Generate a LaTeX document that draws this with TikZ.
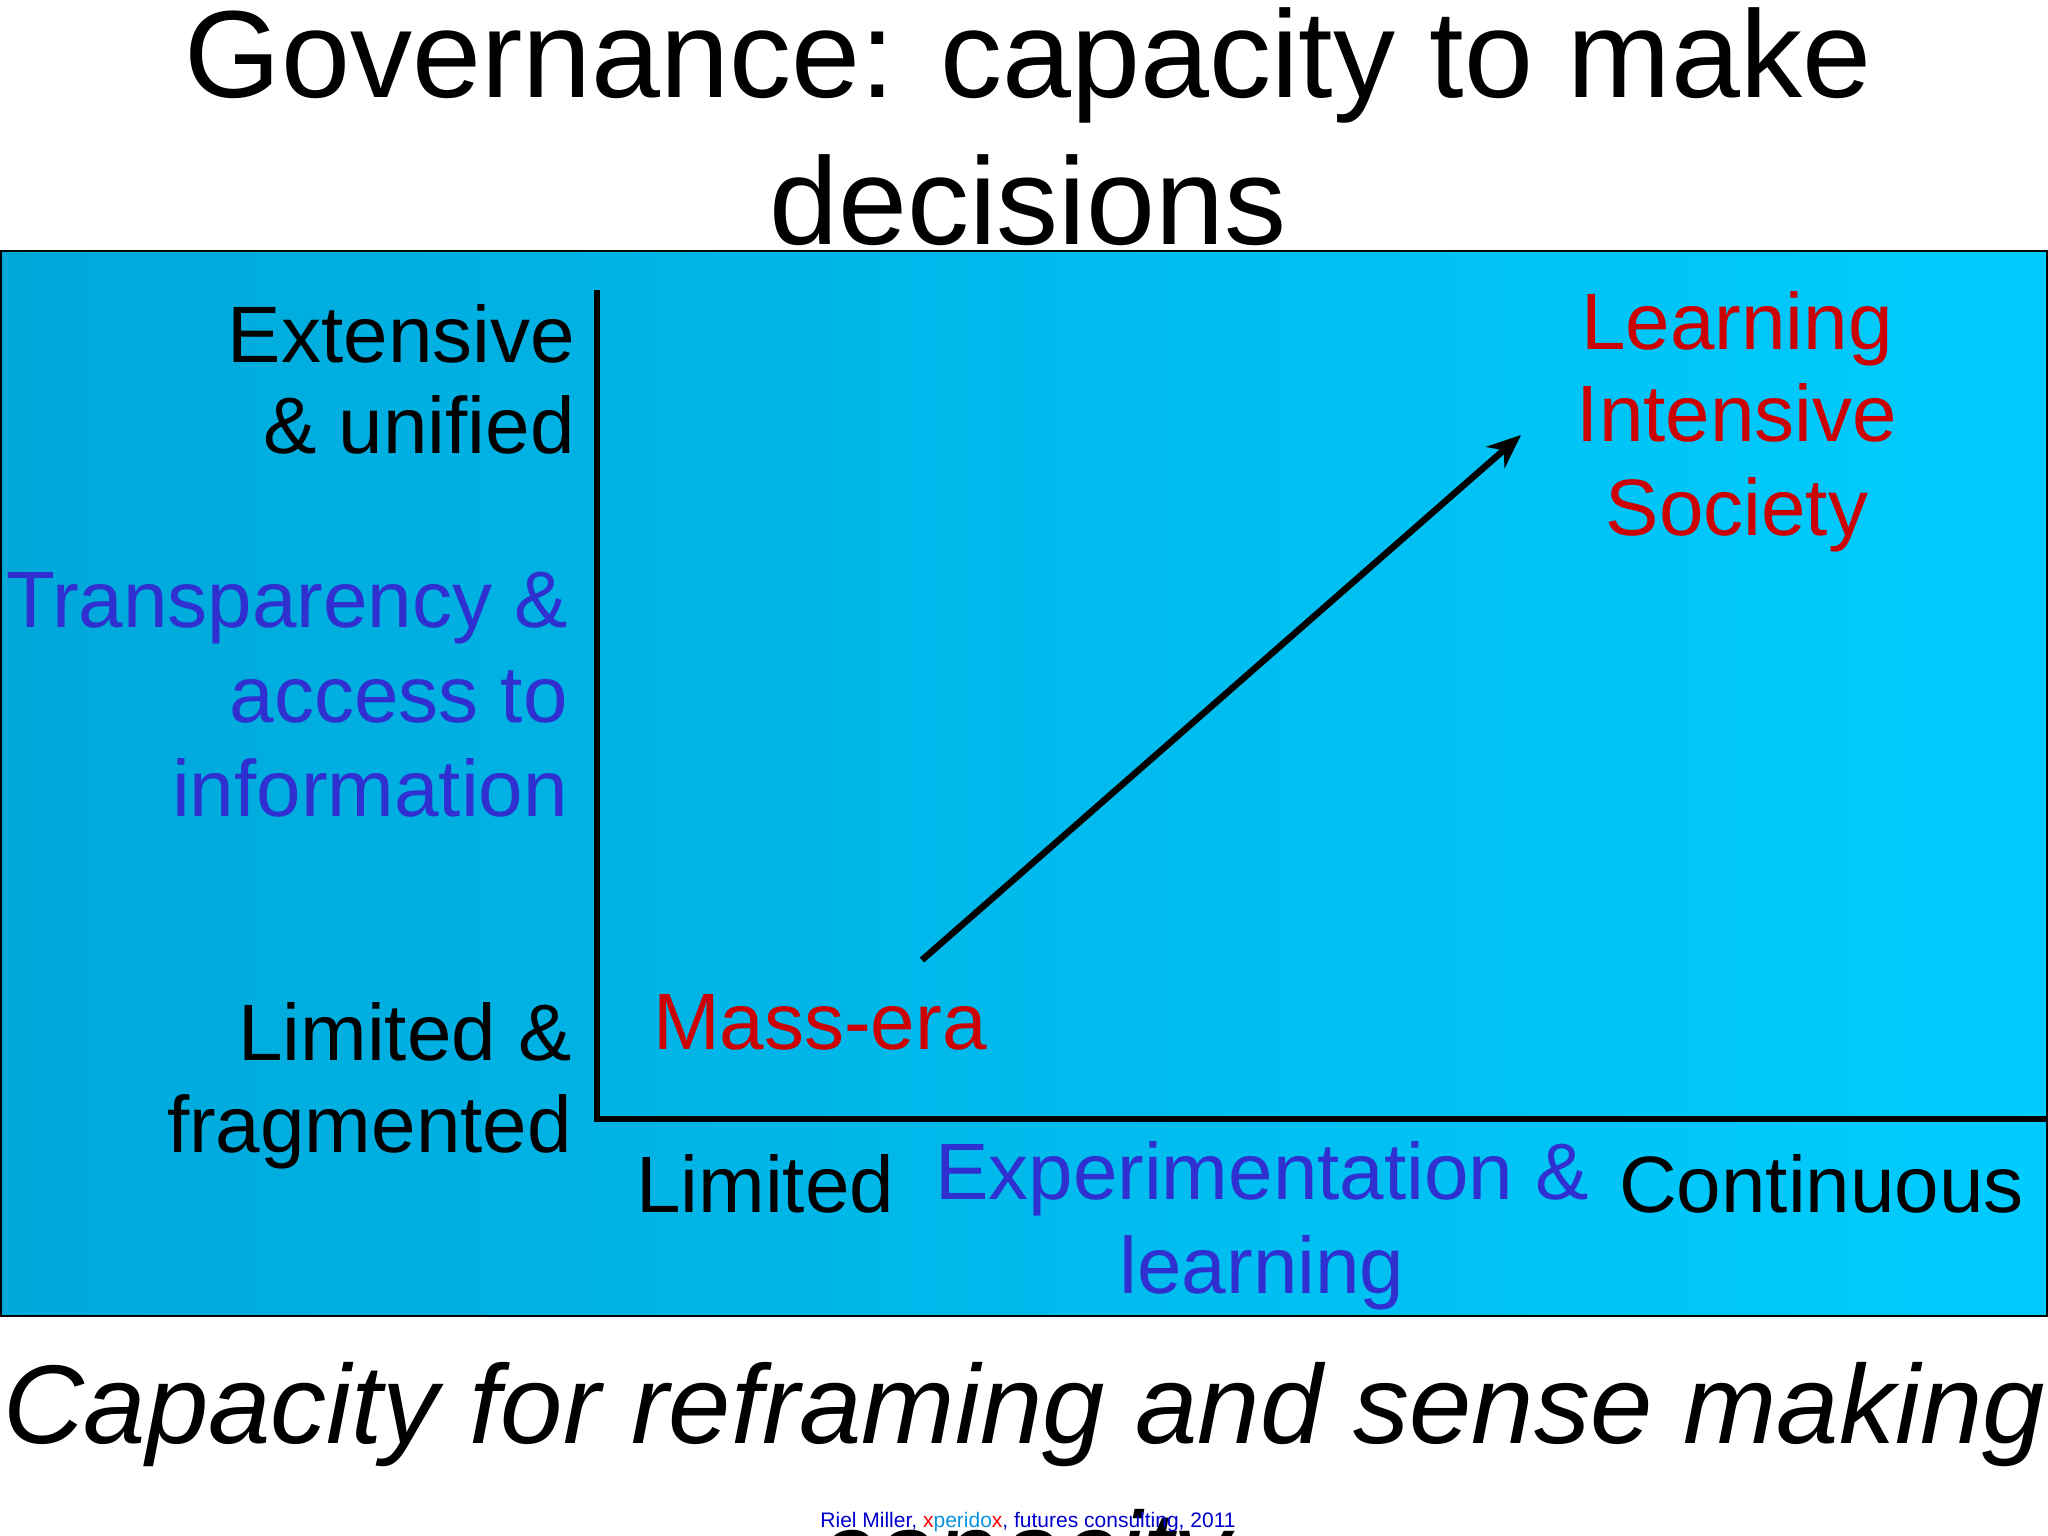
\documentclass[tikz,border=0pt]{standalone}
\usepackage{fontspec}
\usetikzlibrary{arrows.meta}
\setmainfont{Liberation Sans}
\begin{document}
\begin{tikzpicture}[x=1pt,y=-1pt,
  big/.style={font=\fontsize{80}{95}\selectfont, inner sep=0pt},
  ttl/.style={font=\fontsize{124}{140}\selectfont, inner sep=0pt, anchor=base},
  axis/.style={line width=6.5pt},
  bluetxt/.style={text=blueish}, redtxt/.style={text=redish}]
\definecolor{blueish}{HTML}{3030D0}
\definecolor{redish}{HTML}{CC0000}
\definecolor{boxl}{HTML}{00A8DA}
\definecolor{boxr}{HTML}{00CCFF}
\useasboundingbox (0,0) rectangle (2048,1536);
\clip (0,0) rectangle (2048,1536);
\node[ttl] (t1) at (1028,98) {Governance: capacity to make};
\node[ttl] (t2) at (1028,244) {decisions};
\shade[left color=boxl, right color=boxr] (0,251) rectangle (2048,1316);
\draw[line width=2pt] (1,251) rectangle (2047,1316);
\coordinate (vtop) at (597,290);
\coordinate (org) at (597,1119);
\coordinate (hend) at (2048,1119);
\draw[axis] (vtop) -- (org) -- (hend);
\coordinate (as) at (922,960);
\coordinate (ae) at (1521,435);
\draw[line width=6.5pt,-{Stealth[length=34pt,width=28pt]}] (as) -- (ae);
\node[big,anchor=base east] (e1) at (575,362) {Extensive};
\node[big,anchor=base east] (e2) at (575,453) {\& unified};
\node[big,bluetxt,anchor=base east] (tr1) at (568,627) {Transparency \&};
\node[big,bluetxt,anchor=base east] (tr2) at (568,722) {access to};
\node[big,bluetxt,anchor=base east] (tr3) at (568,816) {information};
\node[big,anchor=base east] (l1) at (572,1060) {Limited \&};
\node[big,anchor=base east] (l2) at (572,1152) {fragmented};
\node[big,redtxt,anchor=base west] (m) at (653,1049) {Mass-era};
\node[big,redtxt,anchor=base] (s1) at (1737,349) {Learning};
\node[big,redtxt,anchor=base] (s2) at (1737,441) {Intensive};
\node[big,redtxt,anchor=base] (s3) at (1737,535) {Society};
\node[big,anchor=base west] (lim) at (636,1212) {Limited};
\node[big,bluetxt,anchor=base] (x1) at (1262,1199) {Experimentation \&};
\node[big,bluetxt,anchor=base] (x2) at (1262,1293) {learning};
\node[big,anchor=base east] (c) at (2024,1212) {Continuous};
\node[font=\fontsize{112}{140}\selectfont\itshape, inner sep=0pt, anchor=base] (b1) at (1024,1443) {Capacity for reframing and sense making};
\node[font=\fontsize{112}{140}\selectfont\itshape, inner sep=0pt, anchor=base] (b2) at (1024,1590) {capacity};
\node[font=\fontsize{21}{24}\selectfont, inner sep=0pt, anchor=base] (f) at (1028,1527) {\textcolor{blue!80!black}{Riel Miller, }\textcolor{red}{x}\textcolor{cyan!80!blue}{perido}\textcolor{red}{x}\textcolor{blue!80!black}{, futures consulting, 2011}};
\end{tikzpicture}
\end{document}
